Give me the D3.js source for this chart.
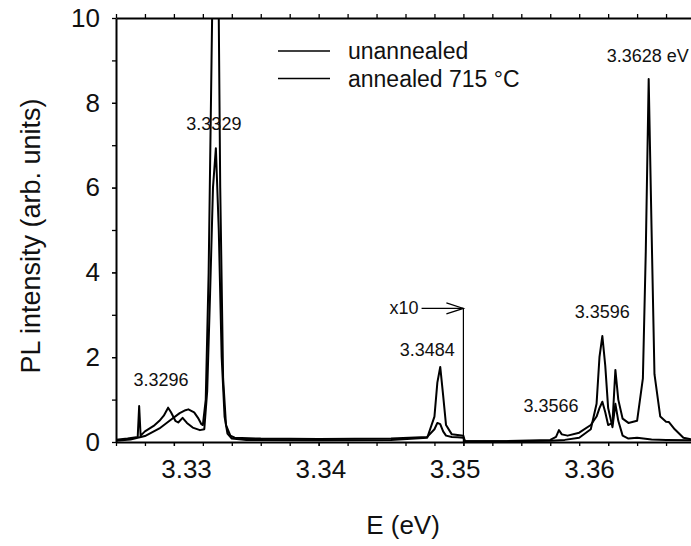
<!DOCTYPE html>
<html>
<head>
<meta charset="utf-8">
<script src="https://cdn.jsdelivr.net/npm/d3@7"></script>
<style>
  body { margin: 0; background: #fff; }
  text { font-family: Arial, "Liberation Sans", Helvetica, sans-serif; fill: #111; }
</style>
</head>
<body>
<svg id="chart" width="691" height="546"></svg>
<script>
// Photon energy (eV) and PL intensity for the two samples
const unannealedE = [3.3260, 3.3270, 3.3280, 3.3290, 3.3297, 3.3304, 3.3308, 3.3310, 3.3314, 3.3317, 3.3319, 3.3320, 3.3322, 3.3324, 3.3326, 3.3328, 3.3329, 3.3330, 3.3332, 3.3334, 3.3336, 3.3339, 3.3342, 3.3360, 3.3400, 3.3450, 3.3475, 3.3480, 3.3482, 3.3484, 3.3486, 3.3488, 3.3492, 3.3496, 3.3500, 3.3501, 3.3530, 3.3560, 3.3564, 3.3566, 3.3568, 3.3572, 3.3580, 3.3588, 3.3592, 3.3594, 3.3596, 3.3598, 3.3600, 3.3603, 3.3605, 3.3607, 3.3610, 3.3614, 3.3620, 3.3624, 3.3626, 3.3628, 3.3630, 3.3632, 3.3636, 3.3640, 3.3642, 3.3646, 3.3652, 3.3660];
const unannealedI = [0.03, 0.06, 0.14, 0.32, 0.50, 0.68, 0.75, 0.77, 0.70, 0.55, 0.42, 0.40, 1.0, 4.0, 9.0, 14.0, 15.0, 14.0, 6.0, 1.5, 0.4, 0.15, 0.10, 0.08, 0.07, 0.08, 0.12, 0.30, 0.45, 0.42, 0.25, 0.15, 0.12, 0.11, 0.10, 0.02, 0.02, 0.05, 0.12, 0.28, 0.18, 0.15, 0.22, 0.40, 0.60, 0.80, 0.95, 0.70, 0.40, 0.45, 1.70, 1.00, 0.55, 0.45, 0.50, 1.50, 4.50, 8.56, 5.00, 1.60, 0.60, 0.48, 0.47, 0.30, 0.10, 0.05];
const annealedE = [3.3260, 3.3268, 3.3274, 3.3275, 3.3276, 3.3277, 3.3280, 3.3286, 3.3290, 3.3293, 3.3296, 3.3298, 3.3301, 3.3303, 3.3306, 3.3309, 3.3313, 3.3318, 3.3321, 3.3323, 3.3325, 3.3327, 3.3329, 3.3331, 3.3333, 3.3335, 3.3337, 3.3340, 3.3350, 3.3400, 3.3450, 3.3475, 3.3480, 3.3482, 3.3484, 3.3486, 3.3488, 3.3492, 3.3500, 3.3501, 3.3530, 3.3560, 3.3570, 3.3580, 3.3588, 3.3592, 3.3594, 3.3596, 3.3598, 3.3600, 3.3603, 3.3605, 3.3607, 3.3610, 3.3614, 3.3620, 3.3630, 3.3640, 3.3660];
const annealedI = [0.05, 0.08, 0.11, 0.12, 0.85, 0.15, 0.25, 0.38, 0.50, 0.62, 0.81, 0.70, 0.50, 0.46, 0.57, 0.45, 0.34, 0.28, 0.30, 1.2, 3.5, 6.0, 6.93, 5.0, 2.0, 0.6, 0.2, 0.08, 0.05, 0.04, 0.05, 0.10, 0.60, 1.40, 1.77, 1.10, 0.40, 0.18, 0.15, 0.02, 0.02, 0.03, 0.05, 0.10, 0.30, 0.90, 2.00, 2.50, 1.80, 0.80, 0.35, 0.90, 0.50, 0.15, 0.08, 0.10, 0.06, 0.05, 0.04];

// Axis ticks
const energyTicks = [3.33, 3.34, 3.35, 3.36];
const energyMinorTicks = [3.326, 3.328, 3.330, 3.332, 3.334, 3.336, 3.338, 3.340, 3.342, 3.344, 3.346, 3.348, 3.350, 3.352, 3.354, 3.356, 3.358, 3.360, 3.362, 3.364];
const intensityTicks = [0, 2, 4, 6, 8, 10];
const intensityMinorTicks = [0, 1, 2, 3, 4, 5, 6, 7, 8, 9, 10];

// Peak annotations: stated energy and the intensity level the text sits at
const peakLabels = ["3.3296", "3.3329", "3.3484", "3.3566", "3.3596", "3.3628 eV"];
const peakLabelE = [3.3296, 3.3329, 3.3484, 3.3566, 3.3596, 3.3628];
const peakLabelI = [1.32, 7.35, 2.03, 0.71, 2.92, 8.96];

const seriesNames = ["unannealed", "annealed 715 \u00b0C"];

(function draw() {
  const svg = d3.select("#chart");
  const plotLeft = 116, plotTop = 18, plotBottom = 442, plotRight = 695;

  const x = d3.scaleLinear().domain([3.326, 3.366]).range([plotLeft, plotRight]);
  const y = d3.scaleLinear().domain([0, 10]).range([plotBottom, plotTop]);
  // the printed energy labels sit on a slightly compressed spacing
  const xLabel = d3.scaleLinear().domain([3.33, 3.36]).range([186, 589]);

  svg.append("clipPath").attr("id", "plotClip")
    .append("rect").attr("x", plotLeft).attr("y", plotTop)
    .attr("width", plotRight - plotLeft).attr("height", plotBottom - plotTop);

  const line = d3.line().x(d => x(d[0])).y(d => y(d[1]));

  const series = [
    d3.zip(unannealedE, unannealedI),
    d3.zip(annealedE, annealedI)
  ];

  svg.append("g").attr("clip-path", "url(#plotClip)")
    .selectAll("path").data(series).join("path")
    .attr("d", line)
    .attr("fill", "none")
    .attr("stroke", "#000")
    .attr("stroke-width", 2)
    .attr("stroke-linejoin", "round");

  // x10 marker
  const markE = 3.35, markI = 3.15;
  svg.append("line").attr("x1", x(markE)).attr("x2", x(markE)).attr("y1", y(markI)).attr("y2", y(0))
    .attr("stroke", "#000").attr("stroke-width", 1.2);
  svg.append("line").attr("x1", x(3.34711)).attr("x2", x(markE)).attr("y1", y(markI)).attr("y2", y(markI))
    .attr("stroke", "#000").attr("stroke-width", 1.2);
  svg.append("path")
    .attr("d", `M${x(markE) - 17},${y(markI) - 5.5}L${x(markE)},${y(markI)}L${x(markE) - 17},${y(markI) + 5.5}`)
    .attr("fill", "none").attr("stroke", "#000").attr("stroke-width", 1.2);
  svg.append("text").attr("x", x(3.34711) - 3).attr("y", y(markI) + 6).attr("text-anchor", "end")
    .attr("font-size", 18).text("x10");

  // Axes
  function styleAxis(g) {
    g.select(".domain").attr("stroke", "#000").attr("stroke-width", 2);
    g.selectAll(".tick line").attr("stroke", "#000").attr("stroke-width", 1.3);
  }

  svg.append("g").attr("transform", `translate(0,${plotBottom})`)
    .call(d3.axisBottom(x).tickValues(energyMinorTicks).tickSize(4).tickFormat("").tickSizeOuter(0))
    .call(styleAxis);
  svg.append("g").attr("transform", `translate(0,${plotBottom})`)
    .call(d3.axisBottom(x).tickValues(energyTicks).tickSize(4).tickPadding(14).tickFormat(d3.format(".2f")).tickSizeOuter(0))
    .call(styleAxis)
    .call(g => g.select(".domain").remove())
    .call(g => g.selectAll("text")
      .attr("font-size", 26).attr("fill", "#111")
      .attr("x", d => xLabel(d) - x(d)));

  svg.append("g").attr("transform", `translate(0,${plotTop})`)
    .call(d3.axisTop(x).tickValues(energyMinorTicks).tickSize(4).tickFormat("").tickSizeOuter(0))
    .call(styleAxis);

  svg.append("g").attr("transform", `translate(${plotLeft},0)`)
    .call(d3.axisLeft(y).tickValues(intensityMinorTicks).tickSize(4).tickFormat("").tickSizeOuter(0))
    .call(styleAxis);
  svg.append("g").attr("transform", `translate(${plotLeft},0)`)
    .call(d3.axisLeft(y).tickValues(intensityTicks).tickSize(4).tickPadding(12).tickFormat(d3.format("d")).tickSizeOuter(0))
    .call(g => g.select(".domain").remove())
    .call(g => g.selectAll(".tick line").attr("stroke", "#000"))
    .call(g => g.selectAll("text").attr("font-size", 26).attr("fill", "#111"));

  // Axis titles
  svg.append("text").attr("x", 403).attr("y", 534).attr("text-anchor", "middle")
    .attr("font-size", 26).text("E (eV)");
  svg.append("text").attr("transform", "translate(40,236) rotate(-90)").attr("text-anchor", "middle")
    .attr("font-size", 27).text("PL intensity (arb. units)");

  // Peak labels (small horizontal nudges keep the text clear of the traces)
  const labelNudge = [-7, -2, -13, -8, 0, -42];
  svg.append("g").selectAll("text").data(peakLabels).join("text")
    .attr("x", (d, i) => x(peakLabelE[i]) + labelNudge[i])
    .attr("y", (d, i) => y(peakLabelI[i]))
    .attr("text-anchor", (d, i) => i === peakLabels.length - 1 ? "start" : "middle")
    .attr("font-size", 18)
    .text(d => d);

  // Legend
  const legend = svg.append("g");
  seriesNames.forEach((name, i) => {
    const ly = 51 + i * 27.5;
    legend.append("line").attr("x1", 278).attr("x2", 330).attr("y1", ly).attr("y2", ly)
      .attr("stroke", "#000").attr("stroke-width", 1.6);
    legend.append("text").attr("x", 348).attr("y", ly + 8).attr("font-size", 23).text(name);
  });
})();
</script>
</body>
</html>
